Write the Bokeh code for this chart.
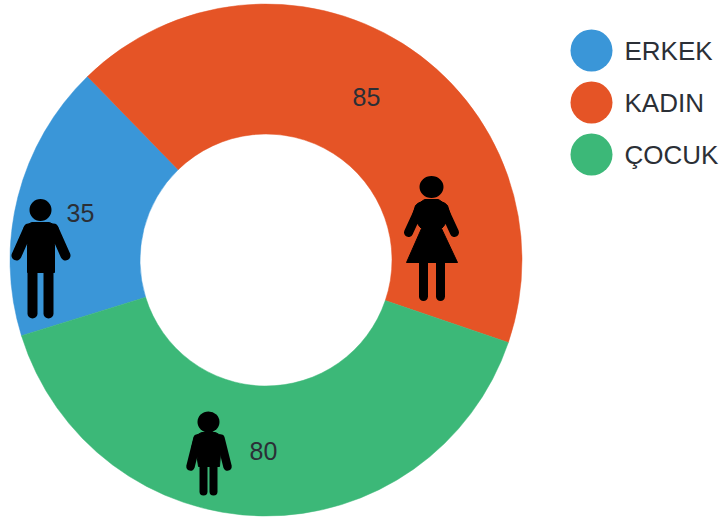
import math
from bokeh.plotting import figure
from bokeh.models import ColumnDataSource, Range1d
from bokeh.core.properties import value
from bokeh.embed import file_html
from bokeh.resources import INLINE

categories = ["ERKEK", "KADIN", "ÇOCUK"]
values = [35, 85, 80]
colors = ["#3A96D8", "#E55426", "#3CB878"]

W, H = 719, 517
CX, CY, R_OUT, R_IN = 265.5, 259.5, 256, 126
START_DEG = 252.8   # clockwise from 12 o'clock
INK = "#2b2f36"
FONT = "Liberation Sans"

def Y(py):
    return H - py

p = figure(width=W, height=H, output_backend="svg", toolbar_location=None,
           x_range=Range1d(0, W), y_range=Range1d(0, H),
           min_border=0, outline_line_color=None)
p.axis.visible = False
p.grid.visible = False
p.background_fill_color = "white"
p.border_fill_color = "white"

total = sum(values)
starts, ends, cum = [], [], 0.0
for v in values:
    a0 = START_DEG + cum / total * 360
    a1 = a0 + v / total * 360
    starts.append(math.radians(90 - a1))
    ends.append(math.radians(90 - a0))
    cum += v
src = ColumnDataSource(dict(cat=categories, val=values, start=starts, end=ends, color=colors))
p.annular_wedge(x=CX, y=Y(CY), inner_radius=R_IN, outer_radius=R_OUT,
                start_angle="start", end_angle="end", fill_color="color",
                line_color="color", line_width=0.5, source=src)

def head(cx, cy, rx, ry):
    p.ellipse(x=[cx], y=[Y(cy)], width=[2 * rx], height=[2 * ry], fill_color="black", line_color=None)

def limb(pts, w):
    p.line([q[0] for q in pts], [Y(q[1]) for q in pts], line_color="black",
           line_width=w, line_cap="round", line_join="round")

def poly(pts):
    p.patch([q[0] for q in pts], [Y(q[1]) for q in pts], fill_color="black", line_color="black", line_width=1)

# man
head(40, 209.5, 11, 11)
poly([(31, 222), (49, 222), (57, 226), (59, 234), (54, 244), (54, 272), (27, 272), (27, 244), (22, 234), (24, 226)])
limb([(28, 228), (16, 255)], 10)
limb([(53, 228), (65, 255)], 10)
limb([(32, 265), (32, 313)], 10)
limb([(48, 265), (48, 313)], 10)

# woman
head(431, 186.5, 12, 11)
poly([(424, 199), (438, 199), (447, 205), (450, 215), (443, 226), (441, 228), (457, 262), (406, 262), (421, 228), (419, 226), (412, 215), (415, 205)])
limb([(420, 206), (408, 232)], 9)
limb([(442, 206), (454, 232)], 9)
limb([(423, 262), (423, 296)], 9)
limb([(440, 262), (440, 296)], 9)

# child
head(208, 421.5, 11, 10.5)
poly([(201, 432), (215, 432), (222, 436), (225, 448), (220, 452), (219, 466), (198, 466), (196, 452), (191, 448), (194, 436)])
limb([(197, 438), (190, 466)], 8.5)
limb([(220, 438), (227, 466)], 8.5)
limb([(203, 462), (203, 491)], 8)
limb([(213, 462), (213, 491)], 8)

lab_x = [66, 352, 249]
lab_y = [212, 96, 450]
p.text(x=lab_x, y=[Y(v) for v in lab_y], text=[str(v) for v in values],
       text_font=value(FONT), text_font_size="25px", text_color=INK,
       text_align="left", text_baseline="middle")

leg_y = [50, 102, 154]
p.circle(x=[591] * 3, y=[Y(v) for v in leg_y], radius=21, fill_color=colors, line_color=None)
p.text(x=[624] * 3, y=[Y(v) for v in leg_y], text=categories,
       text_font=value(FONT), text_font_size="26px", text_color=INK,
       text_align="left", text_baseline="middle")

open("out.html", "w").write(file_html(p, INLINE))
